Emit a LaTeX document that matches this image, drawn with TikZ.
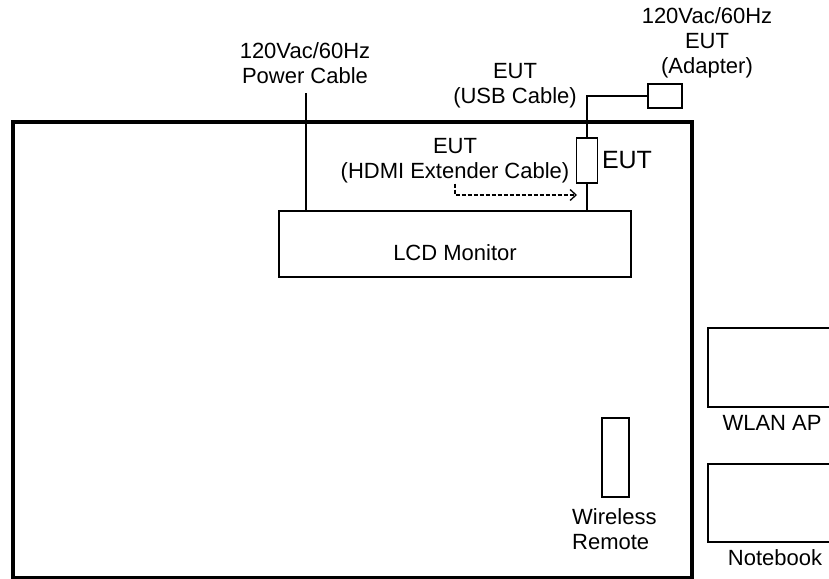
\documentclass[tikz,border=0pt]{standalone}
\usepackage{fontspec}
\setmainfont{Liberation Sans}
\usetikzlibrary{arrows.meta,positioning}

\begin{document}
\begin{tikzpicture}[x=1pt, y=-1pt,
  box/.style={draw, line width=1.4pt, inner sep=0pt},
  lbl/.style={font=\fontsize{22}{25}\selectfont, align=center, inner sep=0pt},
  wire/.style={line width=1.4pt}]
\useasboundingbox (0,0) rectangle (829,578);

% Test table outline
\draw[line width=4.5pt] (13,578) -- (13,122) -- (692,122) -- (692,578) -- cycle;

% LCD monitor
\node[box, minimum width=352pt, minimum height=66pt] (lcd) at (455,244) {};
\node[lbl] (lcdlbl) at (455,253) {LCD Monitor};

% Power cable
\coordinate (pwrtop) at (306,93);
\draw[wire] (pwrtop) -- (pwrtop |- lcd.north);
\node[lbl] (pwrlbl) at (305,63) {120Vac/60Hz\\Power Cable};

% EUT, adapter and USB cable
\node[box, minimum width=21pt, minimum height=45pt] (eut) at (587,160.5) {};
\node[lbl, font=\fontsize{25}{28}\selectfont] (eutlbl) at (627,160) {EUT};
\node[box, minimum width=34pt, minimum height=24pt] (adapter) at (665,96) {};
\draw[wire] (eut.south) -- (eut.south |- lcd.north);
\draw[wire] (eut.north) |- (adapter.west);
\node[lbl] (usblbl) at (515,85.5) {EUT\\(USB Cable)};
\node[lbl] (adapterlbl) at (707,43) {120Vac/60Hz\\EUT\\(Adapter)};

% HDMI extender cable
\node[lbl] (hdmilbl) at (455,161) {EUT\\(HDMI Extender Cable)};
\coordinate (hdmiend) at (577,195);
\draw[line width=1.3pt, dash pattern=on 4pt off 2pt, -{Straight Barb[length=6pt, width=11pt]}]
  (hdmilbl.south) |- (hdmiend);

% Wireless remote
\node[box, minimum width=27pt, minimum height=79pt] (remote) at (615.5,457.5) {};
\node[lbl, align=left, anchor=west] (remotelbl) at (572,529) {Wireless\\Remote};

% WLAN AP and notebook
\node[box, minimum width=140pt, minimum height=79pt] (ap) at (778,367.5) {};
\node[lbl] (aplbl) at (772,423) {WLAN AP};
\node[box, minimum width=140pt, minimum height=78pt] (nb) at (778,503) {};
\node[lbl] (nblbl) at (775,558) {Notebook};
\end{tikzpicture}
\end{document}
